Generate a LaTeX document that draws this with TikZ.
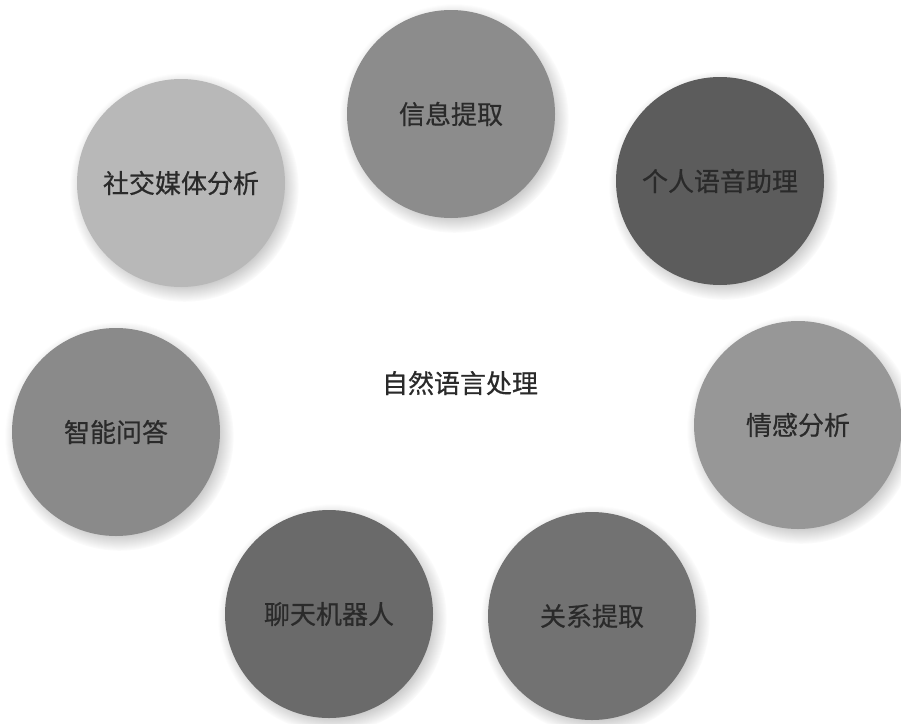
\documentclass[tikz,border=0pt]{standalone}
\usepackage{fontspec}
\newfontfamily\cjk[FakeBold=0.6]{Noto Sans CJK SC}
\usetikzlibrary{shadows}
\definecolor{cA}{HTML}{8C8C8C}
\definecolor{cB}{HTML}{5C5C5C}
\definecolor{cC}{HTML}{B8B8B8}
\definecolor{cD}{HTML}{8A8A8A}
\definecolor{cE}{HTML}{979797}
\definecolor{cF}{HTML}{6A6A6A}
\definecolor{cG}{HTML}{727272}
\definecolor{txt}{HTML}{2A2A2A}
\begin{document}
\begin{tikzpicture}[x=1pt,y=-1pt,
  bubble/.style={circle,minimum size=208pt,inner sep=0pt,draw=none,
    text=txt,font=\cjk\fontsize{26}{30}\selectfont,
    circular drop shadow={shadow xshift=3pt,shadow yshift=-4pt,opacity=0.35,fill=black!60}},
  core/.style={text=txt,font=\cjk\fontsize{26}{30}\selectfont}]
\useasboundingbox[fill=white] (0,0) rectangle (901,723);
\node[bubble,fill=cA] (xx) at (451,114) {信息提取};
\node[bubble,fill=cB] (gr) at (720,181) {个人语音助理};
\node[bubble,fill=cC] (sj) at (181,183) {社交媒体分析};
\node[bubble,fill=cD] (zn) at (116,432) {智能问答};
\node[bubble,fill=cE] (qg) at (798,425) {情感分析};
\node[bubble,fill=cF] (lt) at (329,614) {聊天机器人};
\node[bubble,fill=cG] (gx) at (592,616) {关系提取};
\node[core] (nlp) at (460,383) {自然语言处理};
\end{tikzpicture}
\end{document}
